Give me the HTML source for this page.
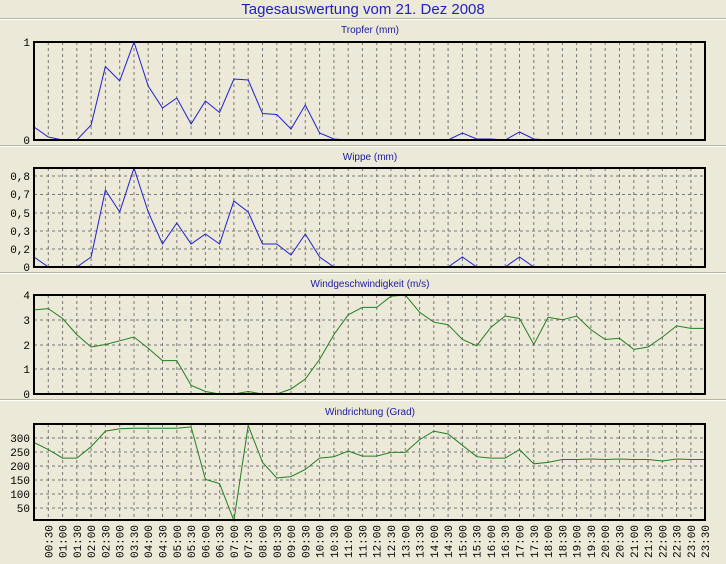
<!DOCTYPE html><html><head><meta charset="utf-8"><style>
body{margin:0;background:#ECE9D8;}
svg{display:block;font-family:"Liberation Sans",sans-serif;}
.g{stroke:#777;stroke-width:1;stroke-dasharray:3,3;fill:none}
.ax{stroke:#000;stroke-width:2;fill:none}
.yl{font-family:"Liberation Mono",monospace;font-size:11px;text-anchor:end;fill:#000}
.xl{font-family:"Liberation Mono",monospace;font-size:11px;text-anchor:end;fill:#000}
.pt{font-size:10px;fill:#1a1aa0;text-anchor:middle}
.sep{stroke:#fff;stroke-width:1}.sep2{stroke:#b8b4a0;stroke-width:1}
</style></head><body>
<svg width="726" height="564" viewBox="0 0 726 564">
<defs>
<path id="v99" d="M48.3 0v99M62.6 0v99M76.8 0v99M91.1 0v99M105.4 0v99M119.7 0v99M134 0v99M148.2 0v99M162.5 0v99M176.8 0v99M191.1 0v99M205.4 0v99M219.6 0v99M233.9 0v99M248.2 0v99M262.5 0v99M276.8 0v99M291 0v99M305.3 0v99M319.6 0v99M333.9 0v99M348.2 0v99M362.4 0v99M376.7 0v99M391 0v99M405.3 0v99M419.6 0v99M433.8 0v99M448.1 0v99M462.4 0v99M476.7 0v99M491 0v99M505.2 0v99M519.5 0v99M533.8 0v99M548.1 0v99M562.4 0v99M576.6 0v99M590.9 0v99M605.2 0v99M619.5 0v99M633.8 0v99M648 0v99M662.3 0v99M676.6 0v99M690.9 0v99"/>
<path id="v96" d="M48.3 0v96M62.6 0v96M76.8 0v96M91.1 0v96M105.4 0v96M119.7 0v96M134 0v96M148.2 0v96M162.5 0v96M176.8 0v96M191.1 0v96M205.4 0v96M219.6 0v96M233.9 0v96M248.2 0v96M262.5 0v96M276.8 0v96M291 0v96M305.3 0v96M319.6 0v96M333.9 0v96M348.2 0v96M362.4 0v96M376.7 0v96M391 0v96M405.3 0v96M419.6 0v96M433.8 0v96M448.1 0v96M462.4 0v96M476.7 0v96M491 0v96M505.2 0v96M519.5 0v96M533.8 0v96M548.1 0v96M562.4 0v96M576.6 0v96M590.9 0v96M605.2 0v96M619.5 0v96M633.8 0v96M648 0v96M662.3 0v96M676.6 0v96M690.9 0v96"/>
</defs>
<text x="363" y="14" style="font-size:15px;fill:#2020c0;text-anchor:middle">Tagesauswertung vom 21. Dez 2008</text>
<line class="sep2" x1="0" y1="18.5" x2="726" y2="18.5"/><line class="sep" x1="0" y1="19.5" x2="726" y2="19.5"/>
<line class="sep2" x1="0" y1="145.5" x2="726" y2="145.5"/><line class="sep" x1="0" y1="146.5" x2="726" y2="146.5"/>
<line class="sep2" x1="0" y1="272.5" x2="726" y2="272.5"/><line class="sep" x1="0" y1="273.5" x2="726" y2="273.5"/>
<line class="sep2" x1="0" y1="399.5" x2="726" y2="399.5"/><line class="sep" x1="0" y1="400.5" x2="726" y2="400.5"/>

<!-- Panel 1 -->
<text class="pt" x="370" y="33">Tropfer (mm)</text>
<use href="#v96" class="g" transform="translate(0,42)"/>
<polyline fill="none" stroke="#2020d0" stroke-width="1" points="34,127 48.3,137 62.6,140 76.8,140 91.1,125 105.4,66.5 119.7,81 134,42 148.2,86 162.5,108 176.8,98 191.1,124 205.4,101 219.6,112.5 233.9,79 248.2,80 262.5,113.5 276.8,114.5 291,129 305.3,105 319.6,133 333.9,139 348.2,140 448.1,140 462.4,133 476.7,139 491,139 505.2,140 519.5,132 533.8,139 548.1,140 705,140"/>
<rect class="ax" x="34" y="42" width="671" height="98"/>
<text class="yl" x="30" y="46">1</text><text class="yl" x="30" y="144">0</text>

<!-- Panel 2 -->
<text class="pt" x="370" y="160">Wippe (mm)</text>
<use href="#v99" class="g" transform="translate(0,168)"/>
<path class="g" d="M34 176H705M34 194.5H705M34 213H705M34 231H705M34 249H705"/>
<polyline fill="none" stroke="#2020d0" stroke-width="1" points="34,257 48.3,267 62.6,267 76.8,267 91.1,257 105.4,190 119.7,212 134,168 148.2,212 162.5,244 176.8,223 191.1,244 205.4,234 219.6,244 233.9,201 248.2,212 262.5,244 276.8,244 291,255 305.3,234 319.6,257 333.9,267 448.1,267 462.4,257 476.7,267 505.2,267 519.5,257 533.8,267 705,267"/>
<rect class="ax" x="34" y="168" width="671" height="99"/>
<text class="yl" x="30" y="180">0,8</text><text class="yl" x="30" y="198">0,7</text><text class="yl" x="30" y="217">0,5</text><text class="yl" x="30" y="235">0,3</text><text class="yl" x="30" y="253">0,2</text><text class="yl" x="30" y="271">0</text>

<!-- Panel 3 -->
<text class="pt" x="370" y="287">Windgeschwindigkeit (m/s)</text>
<use href="#v99" class="g" transform="translate(0,295)"/>
<path class="g" d="M34 320H705M34 345H705M34 369H705"/>
<polyline fill="none" stroke="#208020" stroke-width="1" points="34,309.9 48.3,308.6 62.6,318.5 76.8,334.6 91.1,347 105.4,344.5 119.7,340.8 134,337 148.2,348.2 162.5,360.6 176.8,360.6 191.1,385.3 205.4,391.5 219.6,394 233.9,394 248.2,391.5 262.5,394 276.8,394 291,389 305.3,379 319.6,359.4 333.9,334.6 348.2,314.8 362.4,307.4 376.7,307.4 391,296.2 405.3,295 419.6,312.3 433.8,322.2 448.1,324.7 462.4,339.5 476.7,345.7 491,327.2 505.2,316 519.5,318.5 533.8,344.5 548.1,317.3 562.4,319.8 576.6,316 590.9,329.6 605.2,339.5 619.5,338.3 633.8,349.4 648,347 662.3,337.1 676.6,325.9 690.9,328.4 705.2,328.4"/>
<rect class="ax" x="34" y="295" width="671" height="99"/>
<text class="yl" x="30" y="299">4</text><text class="yl" x="30" y="324">3</text><text class="yl" x="30" y="349">2</text><text class="yl" x="30" y="373">1</text><text class="yl" x="30" y="398">0</text>

<!-- Panel 4 -->
<text class="pt" x="370" y="415">Windrichtung (Grad)</text>
<use href="#v96" class="g" transform="translate(0,424)"/>
<path class="g" d="M34 438H705M34 452H705M34 466H705M34 480H705M34 494H705M34 508H705"/>
<polyline fill="none" stroke="#208020" stroke-width="1" points="34,442.5 48.3,449.6 62.6,458.1 76.8,458.1 91.1,446.7 105.4,431.1 119.7,428.8 134,428.3 148.2,428.3 162.5,428.3 176.8,428.3 191.1,426.9 205.4,479.4 219.6,483.7 233.9,520.6 248.2,425.4 262.5,462.4 276.8,478 291,476.6 305.3,469.5 319.6,458.1 333.9,456.7 348.2,451 362.4,456.1 376.7,456.1 391,452.4 405.3,452.4 419.6,439.6 433.8,431.1 448.1,434 462.4,445.3 476.7,456.7 491,458.1 505.2,458.1 519.5,449.6 533.8,463.8 548.1,462.4 562.4,459.5 576.6,459.5 590.9,459 605.2,459.5 619.5,459 633.8,459.5 648,459.5 662.3,461 676.6,459 690.9,459.5 705.2,459.5"/>
<rect class="ax" x="34" y="424" width="671" height="96"/>
<text class="yl" x="30" y="442">300</text><text class="yl" x="30" y="456">250</text><text class="yl" x="30" y="470">200</text><text class="yl" x="30" y="484">150</text><text class="yl" x="30" y="498">100</text><text class="yl" x="30" y="512">50</text>

<!-- X labels -->
<g class="xl">
<text transform="translate(52.3,525) rotate(-90)">00:30</text>
<text transform="translate(66.6,525) rotate(-90)">01:00</text>
<text transform="translate(80.8,525) rotate(-90)">01:30</text>
<text transform="translate(95.1,525) rotate(-90)">02:00</text>
<text transform="translate(109.4,525) rotate(-90)">02:30</text>
<text transform="translate(123.7,525) rotate(-90)">03:00</text>
<text transform="translate(138,525) rotate(-90)">03:30</text>
<text transform="translate(152.2,525) rotate(-90)">04:00</text>
<text transform="translate(166.5,525) rotate(-90)">04:30</text>
<text transform="translate(180.8,525) rotate(-90)">05:00</text>
<text transform="translate(195.1,525) rotate(-90)">05:30</text>
<text transform="translate(209.4,525) rotate(-90)">06:00</text>
<text transform="translate(223.6,525) rotate(-90)">06:30</text>
<text transform="translate(237.9,525) rotate(-90)">07:00</text>
<text transform="translate(252.2,525) rotate(-90)">07:30</text>
<text transform="translate(266.5,525) rotate(-90)">08:00</text>
<text transform="translate(280.8,525) rotate(-90)">08:30</text>
<text transform="translate(295,525) rotate(-90)">09:00</text>
<text transform="translate(309.3,525) rotate(-90)">09:30</text>
<text transform="translate(323.6,525) rotate(-90)">10:00</text>
<text transform="translate(337.9,525) rotate(-90)">10:30</text>
<text transform="translate(352.2,525) rotate(-90)">11:00</text>
<text transform="translate(366.4,525) rotate(-90)">11:30</text>
<text transform="translate(380.7,525) rotate(-90)">12:00</text>
<text transform="translate(395,525) rotate(-90)">12:30</text>
<text transform="translate(409.3,525) rotate(-90)">13:00</text>
<text transform="translate(423.6,525) rotate(-90)">13:30</text>
<text transform="translate(437.8,525) rotate(-90)">14:00</text>
<text transform="translate(452.1,525) rotate(-90)">14:30</text>
<text transform="translate(466.4,525) rotate(-90)">15:00</text>
<text transform="translate(480.7,525) rotate(-90)">15:30</text>
<text transform="translate(495,525) rotate(-90)">16:00</text>
<text transform="translate(509.2,525) rotate(-90)">16:30</text>
<text transform="translate(523.5,525) rotate(-90)">17:00</text>
<text transform="translate(537.8,525) rotate(-90)">17:30</text>
<text transform="translate(552.1,525) rotate(-90)">18:00</text>
<text transform="translate(566.4,525) rotate(-90)">18:30</text>
<text transform="translate(580.6,525) rotate(-90)">19:00</text>
<text transform="translate(594.9,525) rotate(-90)">19:30</text>
<text transform="translate(609.2,525) rotate(-90)">20:00</text>
<text transform="translate(623.5,525) rotate(-90)">20:30</text>
<text transform="translate(637.8,525) rotate(-90)">21:00</text>
<text transform="translate(652,525) rotate(-90)">21:30</text>
<text transform="translate(666.3,525) rotate(-90)">22:00</text>
<text transform="translate(680.6,525) rotate(-90)">22:30</text>
<text transform="translate(694.9,525) rotate(-90)">23:00</text>
<text transform="translate(709.2,525) rotate(-90)">23:30</text>
</g>
</svg>
</body></html>
